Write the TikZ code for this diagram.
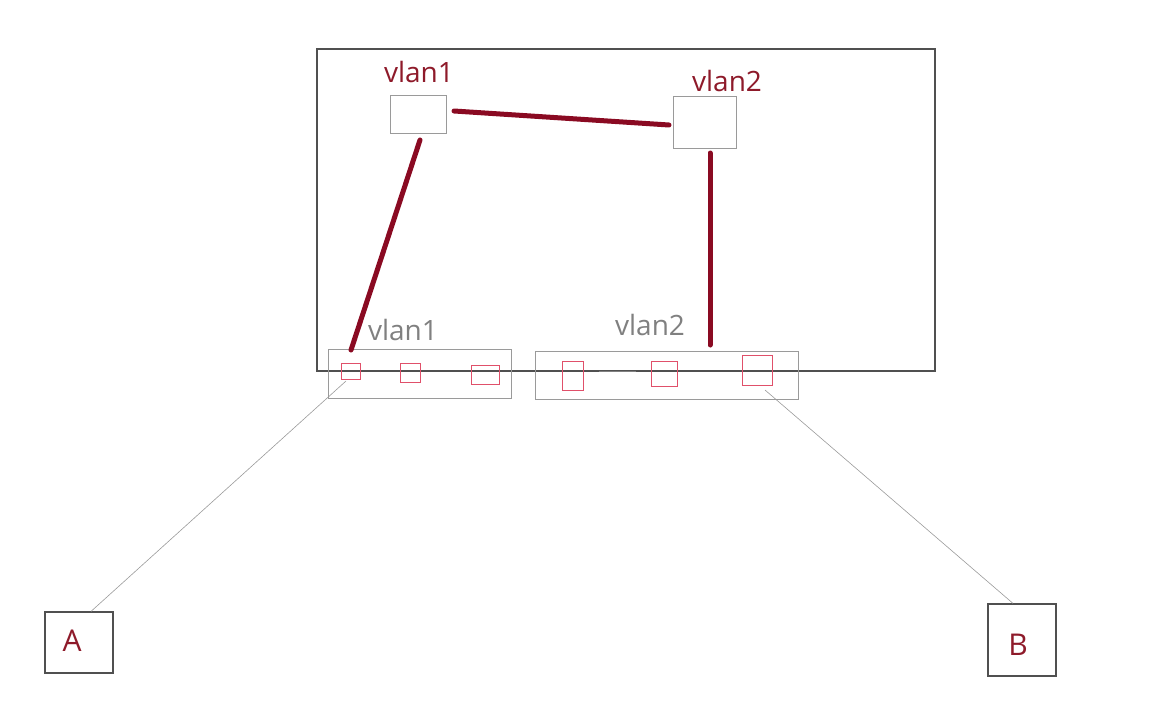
\documentclass[tikz,border=0pt]{standalone}
\usepackage{fontspec}
\setmainfont{Open Sans}
\definecolor{dred}{HTML}{8A0A22}
\definecolor{tred}{HTML}{8E1A2A}
\definecolor{boxgray}{HTML}{9A9A9A}
\definecolor{frame}{HTML}{505050}
\definecolor{pred}{HTML}{E0506A}
\begin{document}
\begin{tikzpicture}[x=1pt,y=-1pt,
  link/.style={dred,line width=5pt,line cap=round},
  sw/.style={draw=boxgray,line width=1pt,inner sep=0pt},
  grp/.style={draw=boxgray,line width=1pt,inner sep=0pt},
  port/.style={draw=pred,line width=0.9pt,inner sep=0pt},
  host/.style={draw=frame,line width=1.2pt,inner sep=0pt,text=tred},
  hlbl/.style={font=\fontsize{30}{34}\selectfont,text=tred,inner sep=0pt},
  lbl/.style={font=\fontsize{28}{32}\selectfont,text=tred,inner sep=0pt},
  glbl/.style={font=\fontsize{28}{32}\selectfont,text=gray,inner sep=0pt},
  wire/.style={draw=boxgray,line width=0.6pt}]
\useasboundingbox (0,0) rectangle (1161,725);
\node[draw=frame,line width=1.2pt,minimum width=618pt,minimum height=322pt,inner sep=0pt] (sw) at (626,210) {};
% top vlan interfaces
\node[sw,minimum width=56pt,minimum height=38pt] (v1) at (418,114) {};
\node[sw,minimum width=63pt,minimum height=52pt] (v2) at (704.5,122) {};
\node[lbl] (v1l) at (419,72) {vlan1};
\node[lbl] (v2l) at (727,81) {vlan2};
% groups
\node[grp,minimum width=183pt,minimum height=49pt] (g1) at (419.5,373.5) {};
\node[grp,minimum width=263pt,minimum height=48pt] (g2) at (666.5,375) {};
\node[glbl] (g1l) at (403,330) {vlan1};
\node[glbl] (g2l) at (650,325) {vlan2};
% ports
\node[port,minimum width=19pt,minimum height=16pt] (p1) at (350.5,371) {};
\node[port,minimum width=20pt,minimum height=19pt] (p2) at (410,372.5) {};
\node[port,minimum width=28pt,minimum height=19pt] (p3) at (485,374.5) {};
\node[port,minimum width=21pt,minimum height=29pt] (p4) at (572.5,375.5) {};
\node[port,minimum width=26pt,minimum height=25pt] (p5) at (664,373.5) {};
\node[port,minimum width=30pt,minimum height=30pt] (p6) at (757,370) {};
\coordinate (s1) at (599,371.5);
\coordinate (s2) at (636,371.5);
\draw[draw=gray,line width=1.3pt] (s1) -- (s2);
% hosts
\node[host,minimum width=68pt,minimum height=61pt] (A) at (79,642.5) {};
\node[host,minimum width=68pt,minimum height=72pt] (B) at (1022,640) {};
\node[hlbl] (Al) at (72,641) {A};
\node[hlbl] (Bl) at (1018,645) {B};
% links
\coordinate (c1) at (454,111);
\coordinate (c2) at (669,125);
\draw[link] (c1) -- (c2);
\coordinate (c3) at (420,140);
\coordinate (c4) at (351,350);
\draw[link] (c3) -- (c4);
\coordinate (c5) at (710,153);
\coordinate (c6) at (710,345);
\draw[link] (c5) -- (c6);
% wires
\coordinate (w1) at (346,381);
\coordinate (w2) at (765,390);
\draw[wire] (w1) -- (A.north -| 91,0);
\draw[wire] (w2) -- (B.north -| 1013,0);
\end{tikzpicture}
\end{document}
